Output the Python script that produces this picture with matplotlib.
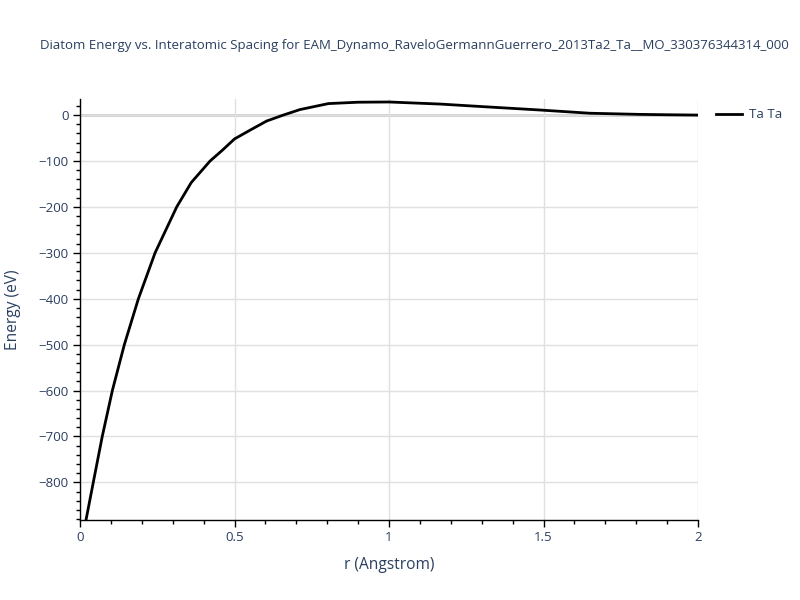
import numpy as np
import matplotlib.pyplot as plt
from matplotlib.ticker import MultipleLocator

plt.rcParams['font.family'] = ['Open Sans', 'DejaVu Sans']

# values
r_vals = [0.0, 0.02, 0.043, 0.072, 0.1047, 0.1435, 0.189, 0.243, 0.313, 0.36,
          0.421, 0.46, 0.50, 0.55, 0.604, 0.658, 0.712, 0.804, 0.9, 1.0,
          1.165, 1.3, 1.489, 1.65, 1.81, 1.9, 2.0]
energy = [-950, -880, -800, -700, -600, -500, -400, -300, -200, -147,
          -100, -77, -52, -33, -13, 0, 12, 25, 28, 28.5,
          24, 18.5, 11, 4, 1.5, 0.7, 0]
series_name = 'Ta Ta'
title = 'Diatom Energy vs. Interatomic Spacing for EAM_Dynamo_RaveloGermannGuerrero_2013Ta2_Ta__MO_330376344314_000'

txt = '#2a3f5f'
grid = '#e0e0e0'

fig = plt.figure(figsize=(8, 6), dpi=100)
ax = fig.add_axes([0.1, 0.1333, 0.7725, 0.7017])

ax.plot(r_vals, energy, color='black', lw=2, label=series_name, zorder=3)
ax.axhline(0, color='#cccccc', lw=2, zorder=1)

ax.set_xlim(0, 2)
ax.set_ylim(-882, 35)
ax.xaxis.set_minor_locator(MultipleLocator(0.1))
ax.yaxis.set_major_locator(MultipleLocator(100))
ax.yaxis.set_minor_locator(MultipleLocator(20))
ax.set_xticks([0, 0.5, 1, 1.5, 2])
ax.set_xticklabels(['0', '0.5', '1', '1.5', '2'])
ax.yaxis.set_major_formatter(plt.FuncFormatter(lambda v, p: '0' if v == 0 else '\u2212%d' % abs(v)))

ax.grid(True, which='major', color=grid, lw=1, zorder=0)
for s in ['top', 'right']:
    ax.spines[s].set_visible(False)
for s in ['left', 'bottom']:
    ax.spines[s].set_color('black')
    ax.spines[s].set_linewidth(1)

ax.tick_params(which='major', direction='out', length=5, width=1, color='black',
               labelsize=9.5, labelcolor=txt, pad=3)
ax.tick_params(which='minor', direction='out', length=3, width=1, color='black')

ax.set_xlabel('r (Angstrom)', fontsize=11.2, color=txt, labelpad=9)
ax.set_ylabel('Energy (eV)', fontsize=11.2, color=txt, labelpad=13)

fig.text(0.05, 0.925, title, fontsize=9.55, color=txt, ha='left', va='center')

ax.legend(loc='center left', bbox_to_anchor=(1.016, 0.962), frameon=False,
          fontsize=9.5, labelcolor=txt, handlelength=2.0, handletextpad=0.5,
          borderaxespad=0.2)

fig.savefig('out.png', dpi=100)
